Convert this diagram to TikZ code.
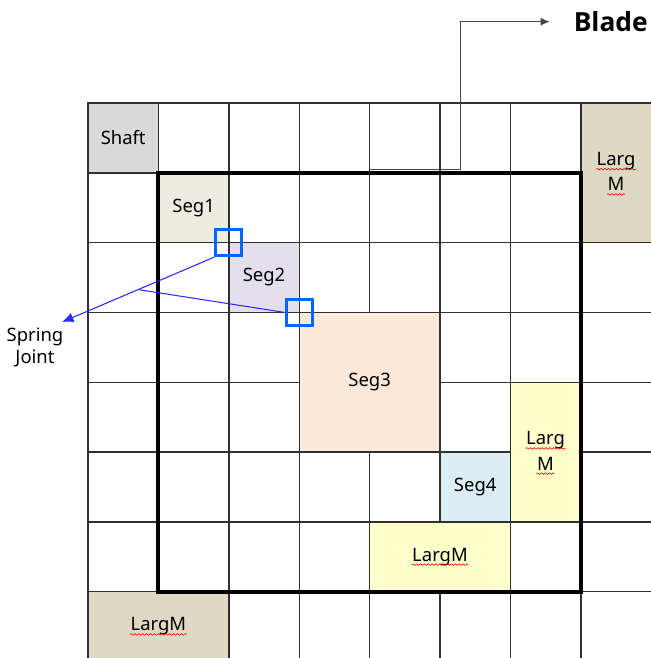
\documentclass[tikz,border=0pt]{standalone}
\usepackage{fontspec}
\setmainfont{Noto Sans}
\newfontfamily\bladefont{Open Sans}
\usetikzlibrary{calc,arrows.meta,decorations.pathmorphing}
\definecolor{gridcol}{HTML}{303030}
\definecolor{shaftgray}{HTML}{D9D9D9}
\definecolor{tan}{HTML}{DDD9C3}
\definecolor{seg1col}{HTML}{EEECE1}
\definecolor{seg2col}{HTML}{E4DFEC}
\definecolor{seg3col}{HTML}{FDE9D9}
\definecolor{seg4col}{HTML}{DAEEF3}
\definecolor{largyellow}{HTML}{FFFFCC}
\definecolor{jointblue}{HTML}{0066FF}
\definecolor{lineblue}{HTML}{2B2BFF}
\begin{document}
\begin{tikzpicture}[x=1.408cm,y=-1.396cm,line width=.8pt,
  font=\fontsize{10.5}{12.5}\selectfont,
  cell/.style={draw=gridcol,inner sep=0pt,align=center,minimum width=1.408cm,minimum height=1.396cm},
  wide/.style={minimum width=2.816cm},
  tall/.style={minimum height=2.792cm},
  word/.style={inner sep=0pt},
  spell/.style={red,line width=.35pt,decorate,decoration={snake,amplitude=.45pt,segment length=2.2pt}},
  joint/.style={draw=jointblue,line width=1.7pt,minimum size=.52cm,inner sep=0pt},
  pointer/.style={draw=lineblue,line width=.6pt}]
\path[use as bounding box] (-1.25,-1.476) rectangle (7.997,7.951);
\clip (-1.25,-1.476) rectangle (7.997,7.951);
% grid
\foreach \i in {0,...,8} {
  \draw[gridcol] (\i,0)--(\i,8);
  \draw[gridcol] (0,\i)--(8,\i);
}
% parts
\node[cell,fill=shaftgray] (shaft) at (.5,.5) {Shaft};
\node[cell,tall,fill=tan] (largmA) at (7.5,1) {};
\node[cell,fill=seg1col] (seg1) at (1.5,1.5) {Seg1};
\node[cell,fill=seg2col] (seg2) at (2.5,2.5) {Seg2};
\node[cell,wide,tall,fill=seg3col] (seg3) at (4,4) {Seg3};
\node[cell,tall,fill=largyellow] (largmB) at (6.5,5) {};
\node[cell,fill=seg4col] (seg4) at (5.5,5.5) {Seg4};
\node[cell,wide,fill=largyellow] (largmC) at (5,6.5) {};
\node[cell,wide,fill=tan] (largmD) at (1,7.5) {};
% labels of the large masses
\node[word] (largA1) at ($(largmA)+(0,-.165)$) {Larg};
\node[word] (largA2) at ($(largmA)+(0,.165)$) {M};
\node[word] (largB1) at ($(largmB)+(0,-.165)$) {Larg};
\node[word] (largB2) at ($(largmB)+(0,.165)$) {M};
\node[word] (largC) at (largmC) {LargM};
\node[word] (largD) at (largmD) {LargM};
\foreach \w in {largA1,largA2,largB1,largB2,largC,largD}
  \draw[spell] ([yshift=-2pt]\w.base west)--([yshift=-2pt]\w.base east);
% blade frame
\draw[line width=2.3pt] (1,1) rectangle (7,7);
\node[font=\bladefont\bfseries\fontsize{15}{18}\selectfont,anchor=west,inner sep=0pt] (blade) at (6.89,-1.165) {Blade};
\coordinate (bladefoot) at (4,.945);
\coordinate (bladebend) at (5.294,.945);
\draw[-{Latex[length=1.8mm,width=1.6mm]},line width=.5pt,draw=gridcol!90] (bladefoot)--(bladebend)|-([xshift=-.47cm]blade.west);
% spring joints
\node[joint] (sj1) at (2,2) {};
\node[joint] (sj2) at (3,3) {};
\node[align=center] (spring) at (-.753,3.496) {Spring\\Joint};
\coordinate (springtip) at (-.369,3.138);
\coordinate (springmeet) at ($(sj1.south west)!.5!(springtip)$);
\draw[pointer,-{Latex[length=2.3mm,width=2mm]},fill=lineblue] (sj1.south west)--(springtip);
\draw[pointer] (sj2.west)--(springmeet);
\end{tikzpicture}
\end{document}
